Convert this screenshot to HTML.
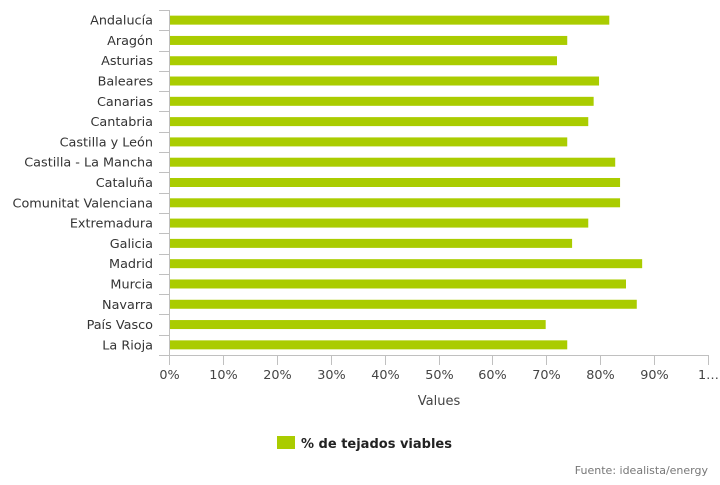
<!DOCTYPE html>
<html><head><meta charset="utf-8"><style>
body{margin:0;background:#fff;font-family:"Liberation Sans","DejaVu Sans",sans-serif}
svg text{font-family:"DejaVu Sans","Liberation Sans",sans-serif}
</style></head><body>
<svg id="chart" width="720" height="480" xmlns="http://www.w3.org/2000/svg"></svg>
<script>
const categories=["Andalucía","Aragón","Asturias","Baleares","Canarias","Cantabria","Castilla y León","Castilla - La Mancha","Cataluña","Comunitat Valenciana","Extremadura","Galicia","Madrid","Murcia","Navarra","País Vasco","La Rioja"];
const values=[81.5,73.7,71.8,79.6,78.6,77.6,73.7,82.6,83.5,83.5,77.6,74.6,87.6,84.6,86.6,69.7,73.7];
const tickValues=[0,10,20,30,40,50,60,70,80,90,100];
const tickLabels=["0%","10%","20%","30%","40%","50%","60%","70%","80%","90%","1…"];
const svg=document.getElementById('chart');
const NS="http://www.w3.org/2000/svg";
const x0=170,x1=709,yTop=10,yBot=355;
const xs=v=>x0+(x1-x0)*v/100;
const band=(yBot-yTop)/categories.length;
function mk(t,a,p){const e=document.createElementNS(NS,t);for(const k in a)e.setAttribute(k,a[k]);(p||svg).appendChild(e);return e;}
const ya=mk('line',{x1:169.5,y1:yTop,x2:169.5,y2:yBot,stroke:'#c0c0c0'});


for(let i=0;i<=categories.length;i++){
 const y=Math.round(yTop+i*band)+0.5;
 const t=mk('line',{x1:159,y1:y,x2:169,y2:y,stroke:'#c0c0c0'});
 
 
}
categories.forEach((c,i)=>{
 const cy=yTop+(i+0.5)*band;
 const l=mk('text',{x:153,y:cy+4.5,'text-anchor':'end','font-size':12.8,fill:'#333'});
 l.textContent=c;
 
 
 const b=mk('rect',{x:x0,y:cy-4.5,width:xs(values[i])-x0,height:9,fill:'#aacc00'});
 
 
});
const xa=mk('line',{x1:169,y1:355.5,x2:x1,y2:355.5,stroke:'#c0c0c0'});


tickValues.forEach((v,i)=>{
 const x=Math.round(xs(v))-0.5;
 const t=mk('line',{x1:x,y1:355,x2:x,y2:365,stroke:'#c0c0c0'});
 
 
 const l=mk('text',{x:x,y:379,'text-anchor':'middle','font-size':12.8,fill:'#444'});
 l.textContent=tickLabels[i];
 
 
});
const xt=mk('text',{x:439,y:405,'text-anchor':'middle','font-size':13,fill:'#444'});
xt.textContent='Values';


const lg=mk('g',{});


mk('rect',{x:277,y:436,width:18,height:13,fill:'#aacc00'},lg);
const lt=mk('text',{x:301,y:448,'font-size':13,'font-weight':'bold',fill:'#222'},lg);
lt.textContent='% de tejados viables';
const src=mk('text',{x:708,y:474,'text-anchor':'end','font-size':11,fill:'#777'});
src.textContent='Fuente: idealista/energy';


</script>
</body></html>
